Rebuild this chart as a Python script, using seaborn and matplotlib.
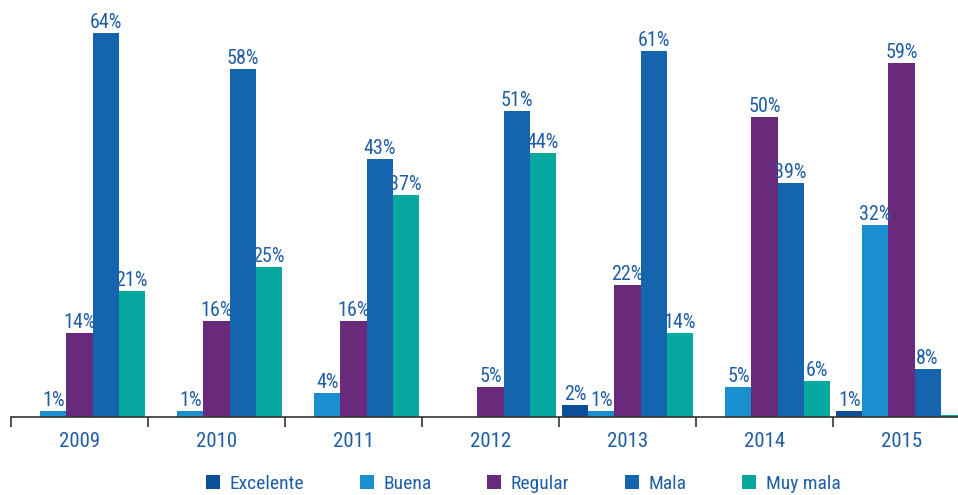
import matplotlib
matplotlib.use("Agg")
import matplotlib.pyplot as plt
import pandas as pd
import seaborn as sns

# datos
anios = ["2009", "2010", "2011", "2012", "2013", "2014", "2015"]
categorias = ["Excelente", "Buena", "Regular", "Mala", "Muy mala"]
excelente = [0, 0, 0, 0, 2, 0, 1]
buena = [1, 1, 4, 0, 1, 5, 32]
regular = [14, 16, 16, 5, 22, 50, 59]
mala = [64, 58, 43, 51, 61, 39, 8]
muy_mala = [21, 25, 37, 44, 14, 6, 0.4]

colores = ["#0b4f98", "#1a8fcf", "#6a2a7b", "#1565ae", "#06a89f"]
color_texto = "#1f5ea6"

valores = [excelente, buena, regular, mala, muy_mala]
filas = []
for cat, serie in zip(categorias, valores):
    for anio, v in zip(anios, serie):
        filas.append({"anio": anio, "categoria": cat, "valor": v})
df = pd.DataFrame(filas)

sns.set_style("white")
plt.rcParams["font.family"] = ["Roboto Condensed", "Liberation Sans Narrow",
                               "DejaVu Sans"]
plt.rcParams["font.stretch"] = "condensed"

fig = plt.figure(figsize=(9.58, 4.95), dpi=100)
ax = fig.add_axes([11 / 958, 78 / 495, 959 / 958, 417 / 495])

sns.barplot(data=df, x="anio", y="valor", hue="categoria", order=anios,
            hue_order=categorias, palette=colores, width=0.95,
            saturation=1, linewidth=0, ax=ax, legend=True)

# etiquetas sobre las barras (solo valores >= 1)
for cont, serie in zip(ax.containers, valores):
    etiquetas = [f"{v:g}%" if v >= 1 else "" for v in serie]
    ax.bar_label(cont, labels=etiquetas, padding=1, color=color_texto,
                 fontsize=14.5)

ax.set_xlim(-0.5, 6.5)
ax.set_ylim(0, 69.5)
ax.set_xlabel("")
ax.set_ylabel("")
ax.set_yticks([])
for s in ["top", "right", "left"]:
    ax.spines[s].set_visible(False)
ax.spines["bottom"].set_color("#333333")
ax.spines["bottom"].set_linewidth(1.2)

ax.set_xticks([i - 0.5 for i in range(8)], minor=True)
ax.tick_params(axis="x", which="minor", bottom=True, length=7, width=1.2,
               color="#333333", direction="out")
ax.tick_params(axis="x", which="major", length=0, pad=11,
               labelsize=15, labelcolor=color_texto)

leg = ax.legend(loc="lower left", bbox_to_anchor=(187 / 959, -0.2),
                ncol=5, frameon=False, fontsize=14, handlelength=0.72,
                handleheight=0.72, columnspacing=2.85, handletextpad=0.5,
                borderaxespad=0)
for t in leg.get_texts():
    t.set_color(color_texto)

fig.savefig("out.png", dpi=100)
